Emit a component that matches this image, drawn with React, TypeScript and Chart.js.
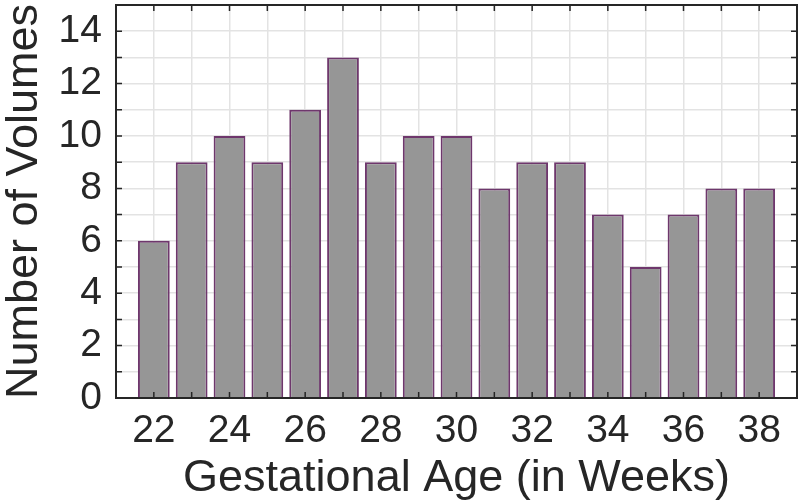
import React, { useEffect, useRef } from "react";
import { Chart, registerables } from "chart.js";

Chart.register(...registerables);

const weeks = [22, 23, 24, 25, 26, 27, 28, 29, 30, 31, 32, 33, 34, 35, 36, 37, 38];
const volumes = [6, 9, 10, 9, 11, 13, 9, 10, 10, 8, 9, 9, 7, 5, 7, 8, 8];
const xTitle = "Gestational Age (in Weeks)";
const yTitle = "Number of Volumes";

const FONT = "'Liberation Sans', Arial, Helvetica, sans-serif";
const TXT = "#262626";

const boxPlugin = {
  id: "matlabBox",
  afterDatasetsDraw(chart: any) {
    const { ctx, chartArea: a, scales } = chart;
    const xs = scales.x;
    const ys = scales.y;
    ctx.save();
    ctx.strokeStyle = TXT;
    ctx.lineWidth = 1.5;
    ctx.beginPath();
    for (let v = 21; v <= 39; v++) {
      const px = xs.getPixelForValue(v);
      ctx.moveTo(px, a.bottom);
      ctx.lineTo(px, a.bottom - 6);
      ctx.moveTo(px, a.top);
      ctx.lineTo(px, a.top + 6);
    }
    for (let v = 0; v <= 15; v++) {
      const py = ys.getPixelForValue(v);
      ctx.moveTo(a.left, py);
      ctx.lineTo(a.left + 6, py);
      ctx.moveTo(a.right, py);
      ctx.lineTo(a.right - 6, py);
    }
    ctx.stroke();
    ctx.lineWidth = 2;
    ctx.strokeRect(a.left, a.top, a.right - a.left, a.bottom - a.top);
    ctx.restore();
  },
};

export default function App() {
  const ref = useRef<HTMLCanvasElement>(null);
  useEffect(() => {
    document.body.style.margin = "0";
    const chart = new Chart(ref.current!, {
      type: "bar",
      data: {
        datasets: [
          {
            data: weeks.map((w, i) => ({ x: w, y: volumes[i] })),
            backgroundColor: "#969696",
            borderColor: "#6e376c",
            borderWidth: 2,
            barPercentage: 0.84,
            categoryPercentage: 1,
          },
        ],
      },
      options: {
        animation: false,
        responsive: false,
        maintainAspectRatio: false,
        layout: { padding: { top: 5, right: 3, left: 0, bottom: 0 } },
        plugins: { legend: { display: false }, tooltip: { enabled: false } },
        scales: {
          x: {
            type: "linear",
            min: 21,
            max: 39,
            offset: false,
            afterFit(s: any) {
              s.height = 103;
              s.paddingLeft = 0;
              s.paddingRight = 0;
            },
            afterBuildTicks(s: any) {
              const t = [];
              for (let v = 21; v <= 39; v++) t.push({ value: v });
              s.ticks = t;
            },
            grid: { color: "#e3e3e3", lineWidth: 1.5, drawTicks: false, offset: false },
            border: { display: false },
            ticks: {
              autoSkip: false,
              maxRotation: 0,
              padding: 10,
              color: TXT,
              font: { family: FONT, size: 39 },
              callback: (v: any) => (v % 2 === 0 && v >= 22 && v <= 38 ? String(v) : ""),
            },
            title: {
              display: true,
              text: xTitle,
              color: TXT,
              font: { family: FONT, size: 45, lineHeight: 1 },
              padding: { top: 0, bottom: 0 },
            },
          },
          y: {
            min: 0,
            max: 15,
            afterFit(s: any) {
              s.width = 116;
              s.paddingTop = 0;
              s.paddingBottom = 0;
            },
            afterBuildTicks(s: any) {
              const t = [];
              for (let v = 0; v <= 15; v++) t.push({ value: v });
              s.ticks = t;
            },
            grid: { color: "#e3e3e3", lineWidth: 1.5, drawTicks: false },
            border: { display: false },
            ticks: {
              autoSkip: false,
              padding: 14,
              color: TXT,
              font: { family: FONT, size: 39 },
              callback: (v: any) => (v % 2 === 0 && v <= 14 ? String(v) : ""),
            },
            title: {
              display: true,
              text: yTitle,
              color: TXT,
              font: { family: FONT, size: 45, lineHeight: 1 },
              padding: { top: 2, bottom: 0 },
            },
          },
        },
      },
      plugins: [boxPlugin],
    } as any);
    return () => chart.destroy();
  }, []);
  return (
    <div style={{ position: "absolute", left: 0, top: 0, width: 800, height: 501 }}>
      <canvas ref={ref} width={800} height={501} />
    </div>
  );
}
